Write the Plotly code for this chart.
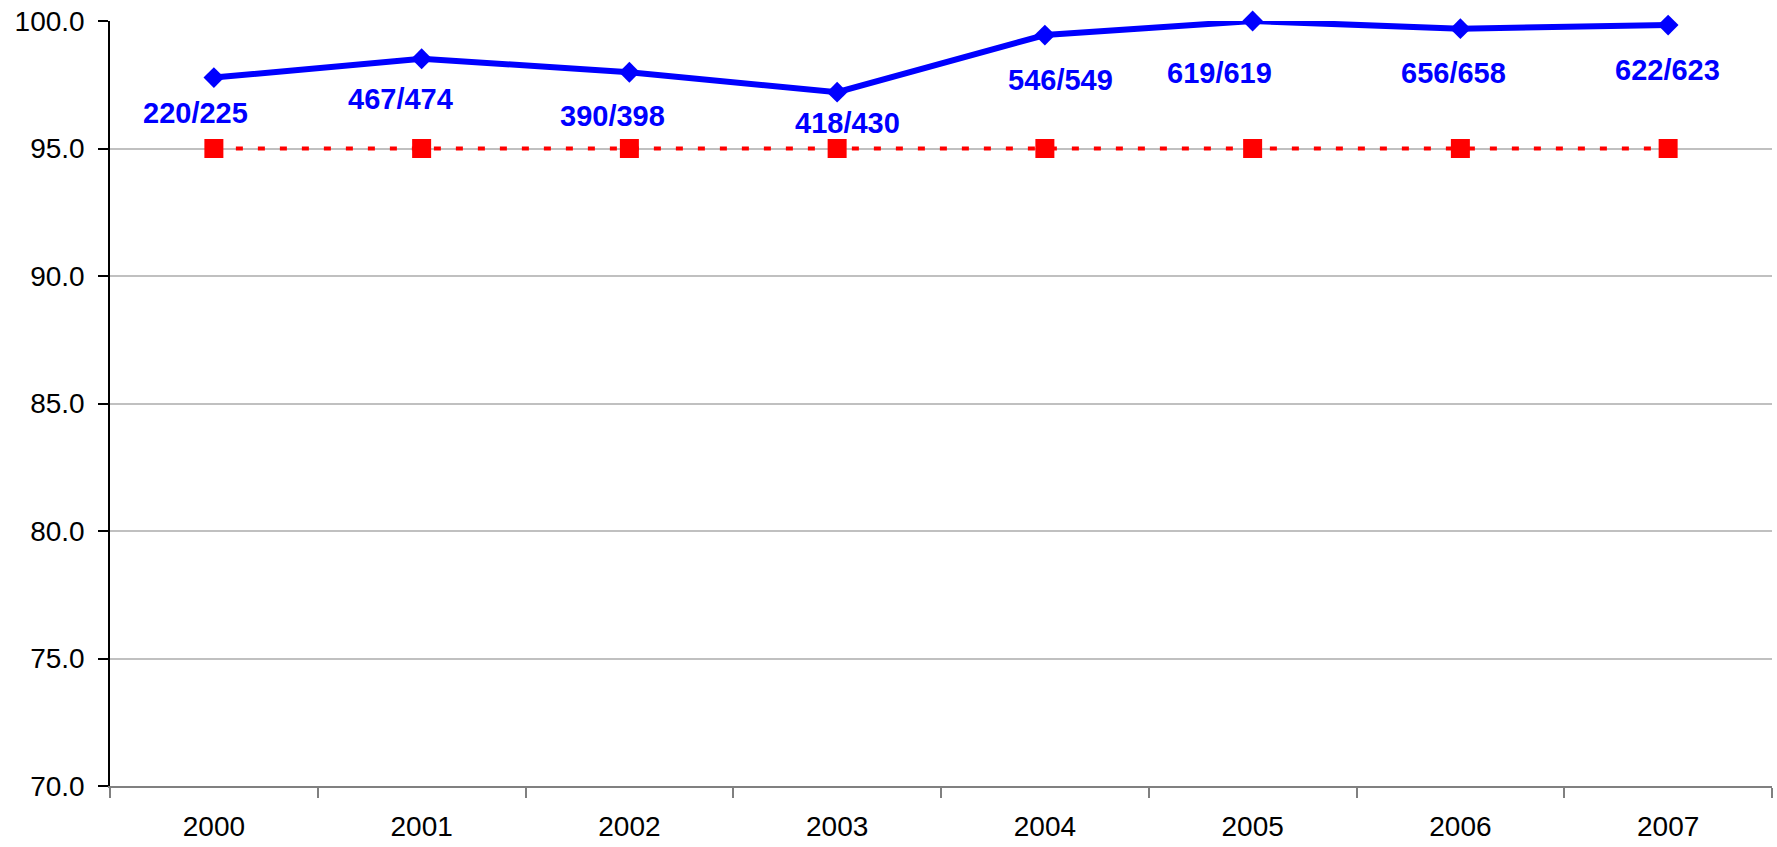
import plotly.graph_objects as go

years = ["2000", "2001", "2002", "2003", "2004", "2005", "2006", "2007"]
rate = [97.78, 98.52, 97.99, 97.21, 99.45, 100.0, 99.70, 99.84]
labels = ["220/225", "467/474", "390/398", "418/430", "546/549", "619/619", "656/658", "622/623"]
target = [95.0, 95.0, 95.0, 95.0, 95.0, 95.0, 95.0, 95.0]
y_ticks = [70.0, 75.0, 80.0, 85.0, 90.0, 95.0, 100.0]

# label placement (layout only)
label_y = [96.39, 96.96, 96.29, 96.0, 97.67, 97.98, 97.98, 98.08]
label_dx = [-18, -21, -17, 10, 16, -33, -7, -1]

fig = go.Figure()
fig.add_trace(go.Scatter(
    x=years, y=target, mode="lines+markers",
    line=dict(color="#FF0000", width=4, dash="7px,15px"),
    marker=dict(symbol="square", size=19, color="#FF0000"),
    showlegend=False, cliponaxis=False))
fig.add_trace(go.Scatter(
    x=years, y=rate, mode="lines+markers",
    line=dict(color="#0000FF", width=6),
    marker=dict(symbol="diamond", size=16, color="#0000FF"),
    showlegend=False, cliponaxis=False))

for i, (lab, ly, dx) in enumerate(zip(labels, label_y, label_dx)):
    fig.add_annotation(x=i, y=ly, xref="x", yref="y", text="<b>" + lab + "</b>",
                       showarrow=False, xshift=dx,
                       font=dict(family="Liberation Sans, Arial, sans-serif", size=29,
                                 color="#0000FF"))

fig.update_layout(
    width=1777, height=847,
    margin=dict(l=110, r=5, t=21, b=61, autoexpand=False),
    paper_bgcolor="white", plot_bgcolor="white",
    font=dict(family="Liberation Sans, Arial, sans-serif", size=28, color="black"),
)
fig.update_xaxes(
    type="category", range=[-0.5, 7.5], tickson="boundaries",
    ticks="outside", ticklen=10, tickcolor="#808080", tickwidth=1.5,
    showline=True, linecolor="#808080", linewidth=1.5,
    showgrid=False, ticklabelstandoff=15, automargin=False,
)
fig.update_yaxes(
    range=[70, 100], tickvals=y_ticks, ticktext=[f"{v:.1f}" for v in y_ticks],
    ticks="outside", ticklen=10, tickcolor="black", tickwidth=1.5,
    showline=True, linecolor="black", linewidth=1.5,
    showgrid=True, gridcolor="#C0C0C0", gridwidth=1.5, zeroline=False,
    ticklabelstandoff=8, automargin=False,
)
fig.write_html("out.html", config={"displayModeBar": False},
               post_script="document.body.style.margin='0';document.body.style.overflow='hidden';")
